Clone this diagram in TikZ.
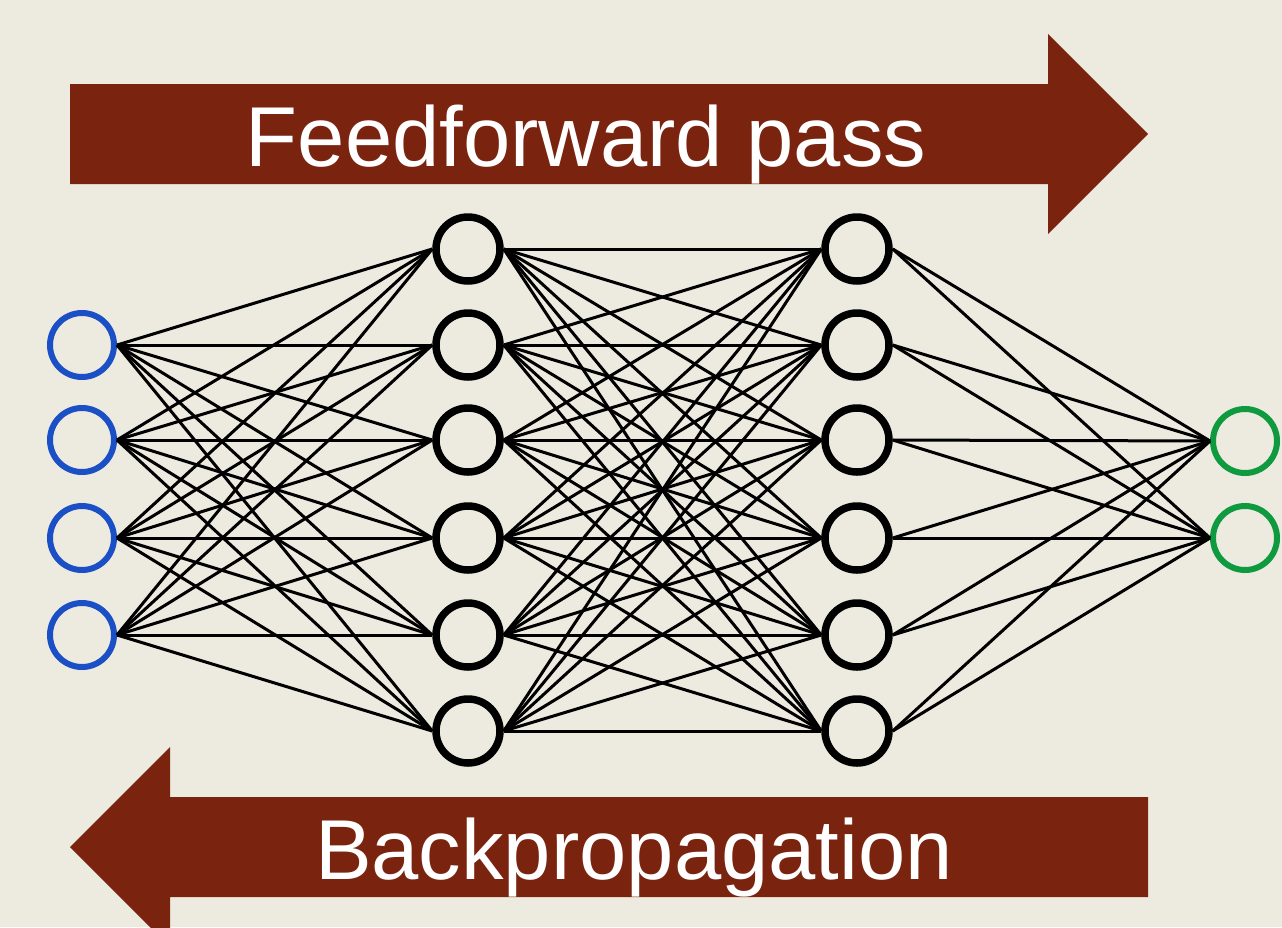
\documentclass[tikz,border=0pt]{standalone}
\usepackage{fontspec}
\setmainfont{Liberation Sans}
\definecolor{paper}{HTML}{EDEBE0}
\definecolor{rust}{HTML}{7A2410}
\definecolor{inblue}{HTML}{1A4FC5}
\definecolor{outgreen}{HTML}{109A40}
\begin{document}
\begin{tikzpicture}[x=1pt,y=-1pt,
  neuron/.style={circle,draw,line width=6pt,minimum size=64pt,inner sep=0pt},
  inneuron/.style={neuron,draw=inblue},
  hidneuron/.style={neuron,draw=black,line width=7.5pt},
  outneuron/.style={neuron,draw=outgreen},
  synapse/.style={line width=3pt,black},
  bigarrow/.style={fill=rust,draw=none},
  label/.style={text=white,font=\fontsize{85}{96}\selectfont,anchor=base,inner sep=0pt}]
\fill[paper] (0,0) rectangle (1282,927);
\useasboundingbox (0,0) rectangle (1282,927);

% direction arrows
\fill[bigarrow] (70,84) -- (1048,84) -- (1048,34) -- (1148,134) -- (1048,234)
  -- (1048,184) -- (70,184) -- cycle;
\fill[bigarrow] (1148,797) -- (170,797) -- (170,747) -- (70,847) -- (170,947)
  -- (170,897) -- (1148,897) -- cycle;
\node[label] (ff) at (586,166) {Feedforward pass};
\node[label] (bp) at (634,879) {Backpropagation};

% layers
\foreach \i/\y in {1/345,2/440,3/538,4/635}
  \node[inneuron] (a\i) at (82,\y) {};
\foreach \i/\y in {1/249,2/345,3/440,4/538,5/635,6/731}{
  \node[hidneuron] (b\i) at (468,\y) {};
  \node[hidneuron] (c\i) at (857,\y) {};
}
\foreach \i/\y in {1/441,2/538}
  \node[outneuron] (d\i) at (1245,\y) {};

% connections, all meeting at the side points of each circle
\foreach \i in {1,...,4}
  \foreach \j in {1,...,6}
    \draw[synapse] (a\i.east) -- (b\j.west);
\foreach \i in {1,...,6}
  \foreach \j in {1,...,6}
    \draw[synapse] (b\i.east) -- (c\j.west);
\foreach \i in {1,...,6}
  \foreach \j in {1,2}
    \draw[synapse] (c\i.east) -- (d\j.west);
\end{tikzpicture}
\end{document}
